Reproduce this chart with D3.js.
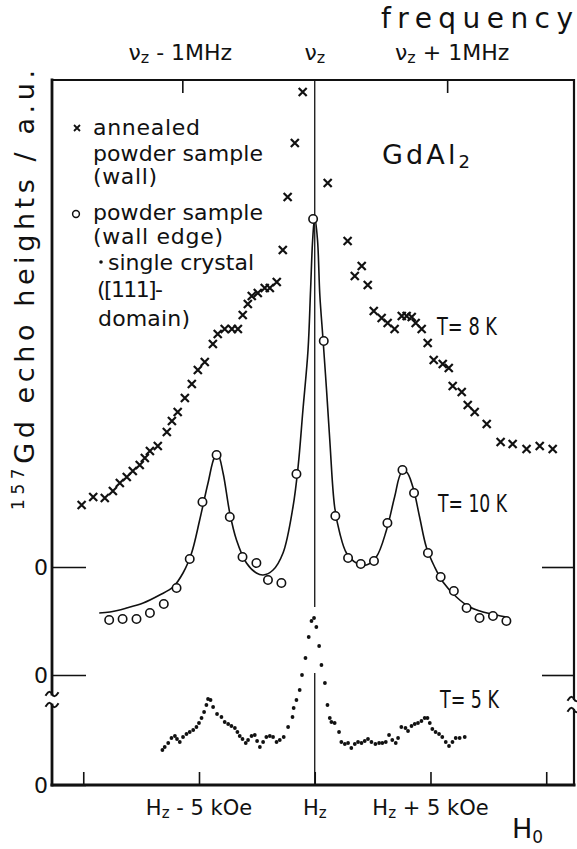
<!DOCTYPE html>
<html>
<head>
<meta charset="utf-8">
<script src="https://cdn.jsdelivr.net/npm/d3@7"></script>
<style>
  body { margin: 0; background: #fff; }
  svg text { font-family: "DejaVu Sans", "Liberation Sans", sans-serif; fill: #111; }
</style>
</head>
<body>
<svg id="chart" width="577" height="849"></svg>
<script>
// Field offset H0 - Hz in kOe; echo heights in a.u. above each curve's own zero line.

// T = 8 K, annealed powder sample (wall)
const annealedH = [-10.07,-9.57,-9.07,-8.72,-8.42,-8.12,-7.86,-7.56,-7.34,-7.12,-6.78,-6.39,-6.17,-5.92,-5.61,-5.31,-5.05,-4.75,-4.40,-4.19,-3.89,-3.58,-3.32,-3.11,-2.89,-2.72,-2.46,-2.16,-1.94,-1.64,-1.38,-1.17,-0.86,-0.52,
                   0.56,1.42,1.73,2.03,2.29,2.55,2.89,3.15,3.45,3.76,3.97,4.19,4.36,4.62,4.88,5.14,5.53,5.79,5.96,6.35,6.61,6.91,7.43,8.03,8.55,9.15,9.72,10.28];
const annealedV = [6.2,7.0,6.9,7.6,8.4,9.0,9.6,10.2,10.9,11.6,12.1,13.5,14.6,15.5,16.9,18.3,19.7,20.5,22.3,23.3,23.8,23.8,23.8,25.2,26.3,27.1,27.4,27.9,27.9,28.5,31.7,37.0,42.4,47.5,
                   38.4,32.6,29.1,30.1,28.2,25.6,24.9,24.4,23.8,25.1,25.1,25.0,24.4,23.8,22.4,20.7,20.3,19.9,18.1,17.5,16.2,15.5,14.3,12.5,12.3,11.8,12.1,11.8];

// T = 10 K, powder sample (wall edge)
const wallEdgeH = [-8.88,-8.30,-7.70,-7.12,-6.52,-5.97,-5.40,-4.85,-4.24,-3.67,-3.12,-2.52,-2.02,-1.44,-0.79,-0.07,
                   0.39,0.89,1.44,1.99,2.56,3.14,3.79,4.29,4.89,5.44,6.01,6.56,7.12,7.70,8.28];
const wallEdgeV = [5.5,5.6,5.6,6.2,7.1,8.7,11.6,17.3,22.0,15.8,11.8,11.2,9.5,9.2,20.1,45.6,
                   33.4,15.9,11.7,11.1,11.4,15.2,20.5,18.2,12.2,9.8,8.4,6.7,5.7,5.9,5.4];

// T = 10 K, fitted line through the wall-edge points
const fitH = [-9.31,-8.85,-8.13,-7.41,-6.70,-6.12,-5.69,-5.32,-4.97,-4.61,-4.32,-4.18,-3.96,-3.67,-3.38,-2.95,-2.52,-2.23,-1.80,-1.37,
              -0.94,-0.72,-0.51,-0.29,-0.18,-0.09,0,0.12,0.22,0.36,0.51,0.65,0.86,1.08,1.37,1.80,2.23,2.66,3.10,3.45,
              3.74,3.96,4.24,4.53,4.82,5.18,5.54,6.12,6.69,7.27,7.85,8.28];
const fitV = [6.2,6.3,6.7,7.2,8.0,8.8,10.2,12.2,15.5,19.2,21.8,22.0,20.2,16.2,13.5,11.2,10.2,10.0,10.5,12.2,
              16.8,20.8,26.5,32.5,38.5,43.5,45.8,43.5,38.0,33.5,28.5,23.5,16.8,14.2,12.2,11.2,11.0,11.8,14.5,17.8,
              20.2,20.3,18.8,15.8,12.8,10.8,9.3,7.8,6.8,6.3,6.0,5.8];

// T = 5 K, single crystal ([111]-domain)
const crystalH = [-6.58,-6.48,-6.33,-6.19,-6.04,-5.95,-5.83,-5.69,-5.54,-5.40,-5.25,-5.11,-5.00,-4.89,-4.78,-4.68,-4.61,-4.50,-4.39,-4.22,
                  -4.03,-3.89,-3.74,-3.60,-3.45,-3.34,-3.24,-3.12,-2.98,-2.88,-2.73,-2.59,-2.49,-2.37,-2.23,-2.09,-1.94,-1.80,-1.65,-1.51,
                  -1.34,-1.15,-0.96,-0.91,-0.79,-0.65,-0.55,-0.40,-0.26,-0.14,-0.03,0.07,0.19,0.29,0.44,0.55,0.65,0.72,0.86,1.05,
                  1.15,1.30,1.44,1.58,1.73,1.87,2.02,2.16,2.30,2.45,2.62,2.78,2.92,3.07,3.21,3.35,3.50,3.60,3.74,3.92,
                  4.03,4.18,4.32,4.46,4.61,4.75,4.87,4.97,5.08,5.22,5.37,5.51,5.66,5.80,5.95,6.09,6.26,6.48];
const crystalV = [3.5,3.8,4.2,4.7,4.9,4.6,4.3,4.8,5.1,5.3,5.5,5.8,6.2,6.7,7.3,8.0,8.6,8.5,7.8,7.1,
                  6.8,6.3,6.1,5.9,5.7,5.3,4.9,4.6,4.2,4.5,4.9,5.0,4.4,3.8,4.3,4.8,4.9,4.8,4.3,4.5,
                  4.8,5.8,6.8,7.7,8.5,9.5,11.0,12.7,14.8,16.4,16.7,15.8,13.9,12.0,10.2,8.0,6.7,6.3,6.2,5.3,
                  4.3,4.1,4.2,3.7,4.1,4.3,4.2,4.4,4.6,4.3,4.1,4.2,4.2,4.3,5.0,4.5,4.2,4.7,5.8,5.7,
                  5.4,5.9,6.1,6.2,6.4,6.7,6.7,6.2,5.6,5.3,5.1,4.8,4.3,3.9,4.3,4.7,4.7,4.8];

// zero line of each curve on the common a.u. axis
const zeroAnnealed = 21.8, zeroWallEdge = 11.0, zeroCrystal = 0;

// axis ticks
const fieldTicks = [-10, -5, 0, 5, 10];          // kOe
const fieldLabels = [[-5, " - 5 kOe"], [0, ""], [5, " + 5 kOe"]];
const freqTicks = [-1, 1];                        // MHz
const freqLabels = [[-1, " - 1MHz"], [0, ""], [1, " + 1MHz"]];
const kOePerMHz = 5.72;

// ---------------------------------------------------------------
const frame = { left: 52, right: 574, top: 80, bottom: 785 };
const svg = d3.select("#chart");

const x = d3.scaleLinear().domain([-11.35, 11.2]).range([frame.left, frame.right]);
const xf = d3.scaleLinear().domain(x.domain().map(d => d / kOePerMHz)).range(x.range());
const y = d3.scaleLinear().domain([0, 75]).range([frame.bottom, 35]);

const ink = "#111";

// ticks via d3 axes (inward)
function styleAxis(g) {
  g.select(".domain").remove();
  g.selectAll(".tick line").attr("stroke", ink).attr("stroke-width", 1.6);
}
svg.append("g").attr("transform", `translate(0,${frame.bottom})`)
  .call(d3.axisBottom(x).tickValues(fieldTicks).tickSize(-13).tickFormat(""))
  .call(styleAxis);
svg.append("g").attr("transform", `translate(0,${frame.top})`)
  .call(d3.axisTop(xf).tickValues(freqTicks).tickSize(-13).tickFormat(""))
  .call(styleAxis);
const leftAxis = svg.append("g").attr("transform", `translate(${frame.left},0)`)
  .call(d3.axisLeft(y).tickValues([zeroCrystal, zeroWallEdge, zeroAnnealed]).tickSize(-34).tickPadding(4).tickFormat(() => "0"))
  .call(styleAxis);
leftAxis.selectAll(".tick text").attr("font-size", 22).attr("fill", ink).attr("dy", "0.36em")
  .attr("font-family", "Liberation Sans, sans-serif");
svg.append("g").attr("transform", `translate(${frame.right},0)`)
  .call(d3.axisRight(y).tickValues([zeroWallEdge, zeroAnnealed]).tickSize(-32).tickFormat(""))
  .call(styleAxis);

// frame with axis breaks on both sides
const fr = svg.append("g").attr("stroke", ink).attr("fill", "none").attr("stroke-linecap", "square");
fr.append("line").attr("x1", frame.left).attr("x2", frame.right).attr("y1", frame.top).attr("y2", frame.top).attr("stroke-width", 2);
fr.append("line").attr("x1", frame.left).attr("x2", frame.right).attr("y1", frame.bottom).attr("y2", frame.bottom).attr("stroke-width", 3);
const breakLeft = [694, 705], breakRight = [699, 710];
fr.append("line").attr("x1", frame.left).attr("x2", frame.left).attr("y1", frame.top).attr("y2", breakLeft[0]).attr("stroke-width", 2.8);
fr.append("line").attr("x1", frame.left).attr("x2", frame.left).attr("y1", breakLeft[1]).attr("y2", frame.bottom).attr("stroke-width", 2.8);
fr.append("line").attr("x1", frame.right).attr("x2", frame.right).attr("y1", frame.top).attr("y2", breakRight[0]).attr("stroke-width", 2.2);
fr.append("line").attr("x1", frame.right).attr("x2", frame.right).attr("y1", breakRight[1]).attr("y2", frame.bottom).attr("stroke-width", 2.2);
function tilde(cx, cy) {
  return `M${cx - 6},${cy + 1} C${cx - 3},${cy - 4} ${cx - 1},${cy - 2} ${cx},${cy} S${cx + 3},${cy + 4} ${cx + 6},${cy - 1}`;
}
[[frame.left, breakLeft], [frame.right, breakRight]].forEach(([bx, [a, b]]) => {
  fr.append("path").attr("d", tilde(bx, a)).attr("stroke-width", 2);
  fr.append("path").attr("d", tilde(bx, b)).attr("stroke-width", 2);
});

// vertical line at Hz (interrupted around the single-crystal peak)
const cl = svg.append("g").attr("stroke", ink).attr("stroke-width", 1.3);
cl.append("line").attr("x1", x(0)).attr("x2", x(0)).attr("y1", frame.top).attr("y2", y(17.8));
cl.append("line").attr("x1", x(0)).attr("x2", x(0)).attr("y1", y(11.2)).attr("y2", frame.bottom);

// fitted line (T = 10 K)
const fitPts = fitH.map((h, i) => [h, fitV[i] + zeroWallEdge]);
svg.append("path")
  .attr("d", d3.line().x(d => x(d[0])).y(d => y(d[1])).curve(d3.curveCatmullRom.alpha(0.5))(fitPts))
  .attr("fill", "none").attr("stroke", ink).attr("stroke-width", 1.6);

// crosses (T = 8 K)
const crossPath = s => `M${-s},${-s}L${s},${s}M${-s},${s}L${s},${-s}`;
svg.append("g").selectAll("path").data(annealedH.map((h, i) => [h, annealedV[i] + zeroAnnealed]))
  .join("path")
  .attr("transform", d => `translate(${x(d[0])},${y(d[1])})`)
  .attr("d", crossPath(4)).attr("stroke", ink).attr("stroke-width", 2.2);

// open circles (T = 10 K)
svg.append("g").selectAll("circle").data(wallEdgeH.map((h, i) => [h, wallEdgeV[i] + zeroWallEdge]))
  .join("circle")
  .attr("cx", d => x(d[0])).attr("cy", d => y(d[1])).attr("r", 4.2)
  .attr("fill", "#fff").attr("stroke", ink).attr("stroke-width", 1.6);

// dots (T = 5 K)
svg.append("g").selectAll("circle").data(crystalH.map((h, i) => [h, crystalV[i] + zeroCrystal]))
  .join("circle")
  .attr("cx", d => x(d[0])).attr("cy", d => y(d[1])).attr("r", 1.9).attr("fill", ink);

// ---------------- text ----------------
function label(xp, yp, parts, opts = {}) {
  const t = svg.append("text").attr("x", xp).attr("y", yp)
    .attr("text-anchor", opts.anchor || "start")
    .attr("font-size", opts.size || 22);
  if (opts.len) t.attr("textLength", opts.len).attr("lengthAdjust", opts.adjust || "spacing");
  if (opts.transform) t.attr("transform", opts.transform);
  parts.forEach(p => {
    const s = t.append("tspan").text(p.t);
    if (p.size) s.attr("font-size", p.size);
    if (p.dy) s.attr("dy", p.dy);
  });
  return t;
}

// frequency axis labels
label(573, 28, [{ t: "frequency" }], { anchor: "end", size: 28, len: 192 });
const nuLabel = rest => [{ t: "ν" }, { t: "z", size: 16, dy: 3 }, { t: rest, dy: -3 }];
freqLabels.forEach(([v, rest]) => {
  label(xf(v) + (v < 0 ? -2 : v > 0 ? 5 : 0), 60, nuLabel(rest), { anchor: "middle", size: 22 });
});

// field axis labels
const hLabel = rest => [{ t: "H" }, { t: "z", size: 15, dy: 3 }, { t: rest, dy: -3 }];
fieldLabels.forEach(([v, rest]) => {
  label(x(v), 815, hLabel(rest), { anchor: "middle", size: 21 });
});
label(512, 838, [{ t: "H" }, { t: "0", size: 17, dy: 5 }], { size: 27 });

// y-axis title
label(0, 0, [{ t: "157", size: 17, dy: -10 }, { t: "Gd echo heights / a.u.", dy: 10 }],
  { anchor: "middle", size: 27, len: 440, transform: "translate(34,290) rotate(-90)" });

// legend
const lg = svg.append("g");
lg.append("path").attr("transform", "translate(77,128)").attr("d", crossPath(3)).attr("stroke", ink).attr("stroke-width", 1.8);
lg.append("circle").attr("cx", 76).attr("cy", 214).attr("r", 3.4).attr("fill", "#fff").attr("stroke", ink).attr("stroke-width", 1.5);
lg.append("circle").attr("cx", 101).attr("cy", 262).attr("r", 1.8).attr("fill", ink);
const legendLines = [
  [93, 135, "annealed", 107],
  [93, 161, "powder sample", 170],
  [93, 184, "(wall)", 64],
  [93, 220, "powder sample", 170],
  [93, 244, "(wall edge)", 130],
  [108, 270, "single crystal", 146],
  [97, 297, "([111]-", 66],
  [98, 326, "domain)", 92]
];
legendLines.forEach(([lx, ly, s, w]) => label(lx, ly, [{ t: s }], { size: 22, len: w }));

// compound name and temperatures
label(382, 164, [{ t: "GdAl" }, { t: "2", size: 18, dy: 4 }], { size: 27, len: 88 });
label(437, 335, [{ t: "T= 8 K" }], { size: 24, len: 60, adjust: "spacingAndGlyphs" });
label(438, 512, [{ t: "T= 10 K" }], { size: 24, len: 69, adjust: "spacingAndGlyphs" });
label(440, 708, [{ t: "T= 5 K" }], { size: 24, len: 59, adjust: "spacingAndGlyphs" });
</script>
</body>
</html>
